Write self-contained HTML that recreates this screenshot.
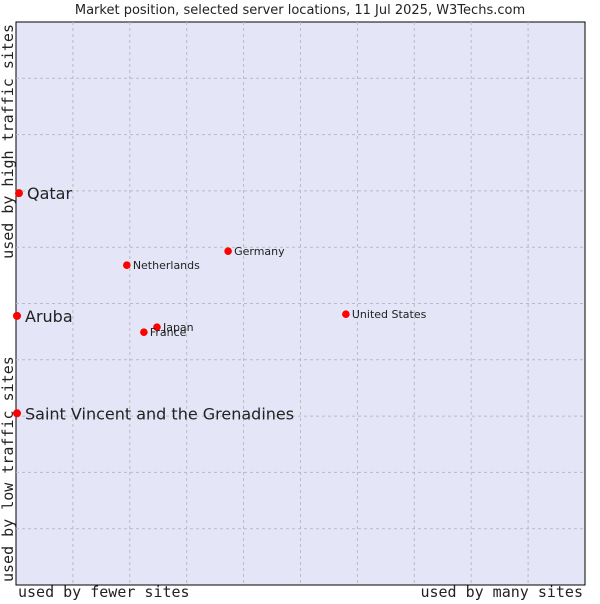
<!DOCTYPE html>
<html><head><meta charset="utf-8"><style>
body{margin:0;background:#fff;width:600px;height:600px;overflow:hidden;font-family:"DejaVu Sans","Liberation Sans",sans-serif}
svg text{fill:#222}
</style></head><body>
<svg id="c" width="600" height="600" xmlns="http://www.w3.org/2000/svg">
<text x="300" y="14" text-anchor="middle" font-size="13" font-family="DejaVu Sans, sans-serif">Market position, selected server locations, 11 Jul 2025, W3Techs.com</text>
<rect x="16" y="22" width="569" height="563" fill="#e4e6f8" stroke="#000" stroke-width="1"/>
<g id="grid"></g>
<g id="pts"></g>
<text x="18" y="597" font-size="15" font-family="DejaVu Sans Mono, monospace">used by fewer sites</text>
<text x="583" y="597" text-anchor="end" font-size="15" font-family="DejaVu Sans Mono, monospace">used by many sites</text>
<text transform="translate(13,24) rotate(-90)" text-anchor="end" font-size="15" font-family="DejaVu Sans Mono, monospace">used by high traffic sites</text>
<text transform="translate(13,582) rotate(-90)" font-size="15" font-family="DejaVu Sans Mono, monospace">used by low traffic sites</text>
</svg>
<script>
const names=["Qatar","Aruba","Saint Vincent and the Grenadines","Netherlands","Germany","United States","Japan","France"];
const xs=[0.35,0,0,19.3,37.1,57.8,24.6,22.3];
const ys=[69.6,47.8,30.5,56.8,59.3,48.1,45.8,44.9];
const big=[true,true,true,false,false,false,false,false];
const L=16,R=585,T=22,B=585;
const sx=v=>L+v/100*(R-L), sy=v=>B-v/100*(B-T);
const NS="http://www.w3.org/2000/svg";
const g=document.getElementById('grid');
for(let i=1;i<10;i++){
 const v=document.createElementNS(NS,'line');
 
 
 v.setAttribute('x1',sx(i*10));v.setAttribute('x2',sx(i*10));v.setAttribute('y1',T);v.setAttribute('y2',B);
 v.setAttribute('stroke','#bbb');v.setAttribute('stroke-dasharray','3,3');g.appendChild(v);
 const h=document.createElementNS(NS,'line');
 
 
 h.setAttribute('y1',sy(i*10));h.setAttribute('y2',sy(i*10));h.setAttribute('x1',L);h.setAttribute('x2',R);
 h.setAttribute('stroke','#bbb');h.setAttribute('stroke-dasharray','3,3');g.appendChild(h);
}
const p=document.getElementById('pts');
names.forEach((n,i)=>{
 const x=sx(xs[i]),y=sy(ys[i]);
 const c=document.createElementNS(NS,'circle');
 
 
 c.setAttribute('cx',x+1);c.setAttribute('cy',y);c.setAttribute('r',big[i]?4:3.8);c.setAttribute('fill','#f00');p.appendChild(c);
 const t=document.createElementNS(NS,'text');
 
 
 t.setAttribute('x',x+(big[i]?9:7));t.setAttribute('y',y+(big[i]?6:4));
 t.setAttribute('font-size',big[i]?16:11);t.textContent=n;p.appendChild(t);
});
</script>
</body></html>
